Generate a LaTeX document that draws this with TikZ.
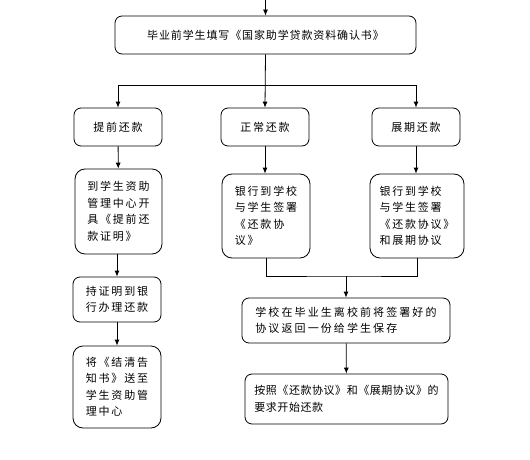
\documentclass[tikz,border=0pt]{standalone}
\usepackage{fontspec}
\newfontfamily\cjk[LetterSpace=16]{Noto Sans CJK SC}
\newfontfamily\cjktop[LetterSpace=8]{Noto Sans CJK SC}
\newfontfamily\cjknarrow[LetterSpace=5]{Noto Sans CJK SC}
\newfontfamily\cjkwide[LetterSpace=19]{Noto Sans CJK SC}
\usetikzlibrary{arrows.meta}
\begin{document}
\begin{tikzpicture}[x=1pt,y=-1pt,
  box/.style={draw, line width=0.8pt, rounded corners=7pt, align=left, inner sep=0pt,
    font=\cjk\fontsize{11}{16.5}\selectfont},
  conn/.style={line width=0.8pt},
  arr/.style={conn, -{Latex[length=6pt,width=5pt]}}]
\useasboundingbox (0,0) rectangle (530,460);
\fill[white] (0,0) rectangle (530,460);
% nodes
\node[box, minimum width=301pt, minimum height=38pt, font=\cjktop\fontsize{11}{16.5}\selectfont] (top) at (265.5,35) {毕业前学生填写《国家助学贷款资料确认书》};
\node[box, minimum width=88pt, minimum height=38pt] (a1) at (118,127) {提前还款};
\node[box, minimum width=88pt, minimum height=38pt] (b1) at (265,127) {正常还款};
\node[box, minimum width=88pt, minimum height=38pt] (c1) at (416,127) {展期还款};
\node[box, minimum width=87pt, minimum height=85pt, rounded corners=10pt] (a2) at (118.5,211.5) {到学生资助\\管理中心开\\具《提前还\\款证明》};
\node[box, minimum width=88pt, minimum height=84pt, rounded corners=10pt] (b2) at (266,216) {银行到学校\\与学生签署\\《还款协\\议》\hphantom{协}};
\node[box, minimum width=94pt, minimum height=84pt, rounded corners=10pt] (c2) at (417,216) {银行到学校\\与学生签署\\《还款协议》\\和展期协议};
\node[box, minimum width=88pt, minimum height=45pt] (a3) at (117,299.5) {持证明到银\\行办理还款};
\node[box, minimum width=88pt, minimum height=82pt, rounded corners=10pt] (a4) at (117,387) {将《结清告\\知书》送至\\学生资助管\\理中心};
\node[box, minimum width=208pt, minimum height=45pt, font=\cjkwide\fontsize{11}{16.5}\selectfont] (d1) at (346,320.5) {学校在毕业生离校前将签署好的\\协议返回一份给学生保存};
\node[box, minimum width=203pt, minimum height=50pt, font=\cjknarrow\fontsize{11}{16.5}\selectfont] (d2) at (346.5,399) {按照《还款协议》和《展期协议》的\\要求开始还款};
% coordinates
\coordinate (start) at (265.5,0);
\coordinate (j) at (265.5,85);
\coordinate (m) at (346,276);
% connectors
\draw[arr] (start) -- (top.north);
\draw[arr] (top.south) -- (b1.north);
\draw[arr] (j) -| (a1.north);
\draw[arr] (j) -| (c1.north);
\draw[arr] (a1) -- (a2);
\draw[arr] (b1.south) -- (b1.south |- b2.north);
\draw[arr] (c1.south) -- (c1.south |- c2.north);
\draw[arr] (a3.north |- a2.south) -- (a3.north);
\draw[arr] (a3) -- (a4);
\draw[conn] (b2.south) |- (m) -| (c2.south);
\draw[arr] (m) -- (d1.north);
\draw[arr] (d1) -- (d2);
\end{tikzpicture}
\end{document}
